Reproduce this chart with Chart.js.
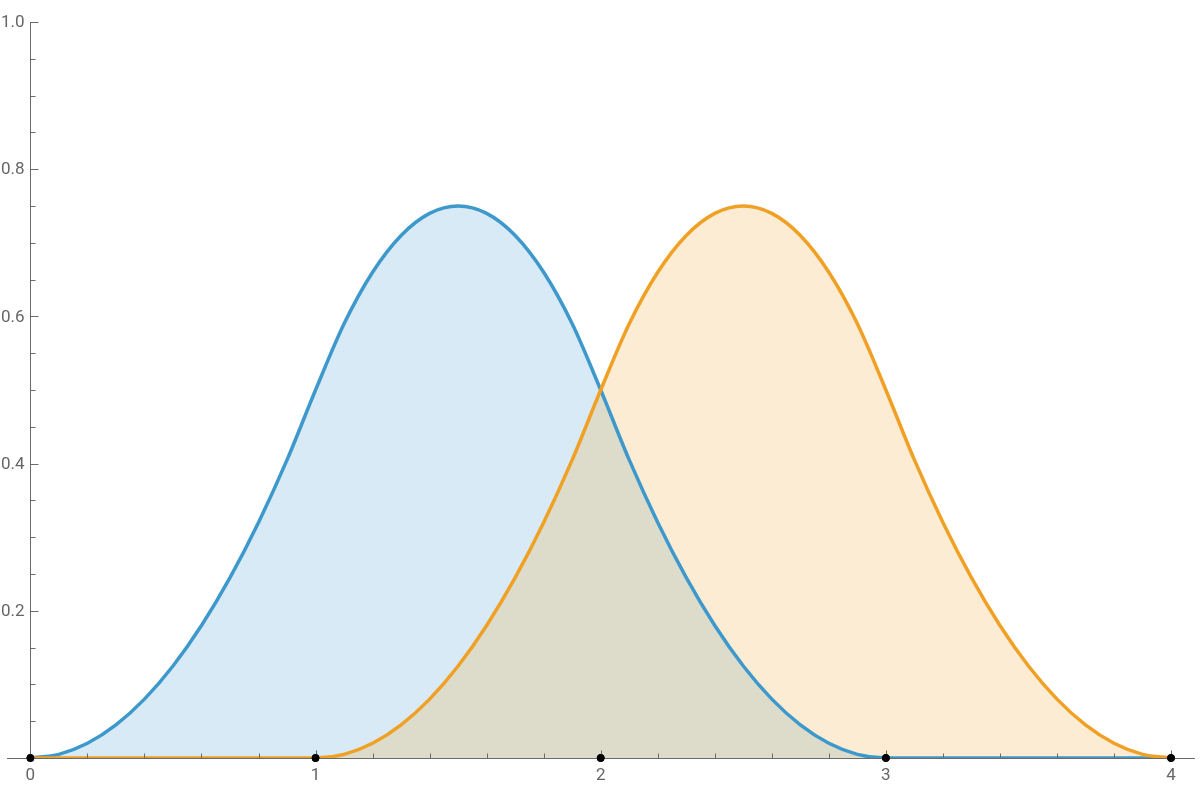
<!DOCTYPE html>
<html>
<head>
<meta charset="utf-8">
<script src="https://cdn.jsdelivr.net/npm/chart.js@4/dist/chart.umd.min.js"></script>
<style>
  body { margin: 0; background: #fff; }
</style>
</head>
<body>
<canvas id="chart" width="1200" height="800"></canvas>
<script>
// sampled x positions, step 0.1
const xs = [
  0, 0.1, 0.2, 0.3, 0.4, 0.5, 0.6, 0.7, 0.8, 0.9,
  1, 1.1, 1.2, 1.3, 1.4, 1.5, 1.6, 1.7, 1.8, 1.9,
  2, 2.1, 2.2, 2.3, 2.4, 2.5, 2.6, 2.7, 2.8, 2.9,
  3, 3.1, 3.2, 3.3, 3.4, 3.5, 3.6, 3.7, 3.8, 3.9, 4,
];
const blueValues = [
  0, 0.005, 0.02, 0.045, 0.08, 0.125, 0.18, 0.245, 0.32, 0.405,
  0.5, 0.59, 0.66, 0.71, 0.74, 0.75, 0.74, 0.71, 0.66, 0.59,
  0.5, 0.405, 0.32, 0.245, 0.18, 0.125, 0.08, 0.045, 0.02, 0.005,
  0, 0, 0, 0, 0, 0, 0, 0, 0, 0, 0,
];
const orangeValues = [
  0, 0, 0, 0, 0, 0, 0, 0, 0, 0,
  0, 0.005, 0.02, 0.045, 0.08, 0.125, 0.18, 0.245, 0.32, 0.405,
  0.5, 0.59, 0.66, 0.71, 0.74, 0.75, 0.74, 0.71, 0.66, 0.59,
  0.5, 0.405, 0.32, 0.245, 0.18, 0.125, 0.08, 0.045, 0.02, 0.005, 0,
];
const knots = [0, 1, 2, 3, 4];
const xMajorTicks = [0, 1, 2, 3, 4];
const xTickLabels = ['0', '1', '2', '3', '4'];
const yMajorTicks = [0.2, 0.4, 0.6, 0.8, 1.0];
const yTickLabels = ['0.2', '0.4', '0.6', '0.8', '1.0'];
const xMinorStep = 0.2;
const yMinorStep = 0.05;

const AXIS_COLOR = '#6b6b6b';
const LABEL_COLOR = '#666';

const toPoints = (vals) => vals.map((v, i) => ({ x: xs[i], y: v }));

const axesPlugin = {
  id: 'mmaAxes',
  afterDatasetsDraw(chart) {
    const { ctx, scales } = chart;
    const xs_ = scales.x;
    const ys_ = scales.y;
    const x0 = Math.round(xs_.getPixelForValue(0)) + 0.5;
    const y0 = Math.round(ys_.getPixelForValue(0)) + 0.5;
    ctx.save();
    ctx.strokeStyle = AXIS_COLOR;
    ctx.lineWidth = 1;
    ctx.beginPath();
    // x axis
    ctx.moveTo(chart.chartArea.left, y0);
    ctx.lineTo(chart.chartArea.right, y0);
    // y axis
    ctx.moveTo(x0, y0);
    ctx.lineTo(x0, Math.round(ys_.getPixelForValue(1)));
    // x ticks
    for (let i = 0; i <= 20; i++) {
      const v = i * xMinorStep;
      const px = Math.round(xs_.getPixelForValue(v)) + 0.5;
      const major = xMajorTicks.some((t) => Math.abs(t - v) < 1e-6);
      ctx.moveTo(px, y0);
      ctx.lineTo(px, y0 - (major ? 8 : 5));
    }
    // y ticks
    for (let i = 1; i <= 20; i++) {
      const v = i * yMinorStep;
      const py = Math.round(ys_.getPixelForValue(v)) + 0.5;
      const major = yMajorTicks.some((t) => Math.abs(t - v) < 1e-6);
      ctx.moveTo(x0, py);
      ctx.lineTo(x0 + (major ? 8 : 5), py);
    }
    ctx.stroke();

    ctx.fillStyle = LABEL_COLOR;
    ctx.font = '17px Roboto';
    ctx.textAlign = 'center';
    ctx.textBaseline = 'top';
    xMajorTicks.forEach((t, i) => {
      ctx.fillText(xTickLabels[i], xs_.getPixelForValue(t), y0 + 9);
    });
    ctx.textAlign = 'right';
    ctx.textBaseline = 'middle';
    yMajorTicks.forEach((t, i) => {
      ctx.fillText(yTickLabels[i], x0 - 6, ys_.getPixelForValue(t) + 1);
    });
    ctx.restore();

    // knot dots on top of the axis
    const meta = chart.getDatasetMeta(2);
    meta.data.forEach((p) => p.draw(ctx, chart.chartArea));
  },
};

new Chart(document.getElementById('chart').getContext('2d'), {
  type: 'line',
  data: {
    datasets: [
      {
        label: 'orange',
        data: toPoints(orangeValues),
        borderColor: '#f0a024',
        backgroundColor: 'rgba(240,160,36,0.2)',
        borderWidth: 3.5,
        fill: 'origin',
        pointRadius: 0,
        cubicInterpolationMode: 'monotone',
        order: 1,
      },
      {
        label: 'blue',
        data: toPoints(blueValues),
        borderColor: '#3d98cc',
        backgroundColor: 'rgba(61,152,204,0.2)',
        borderWidth: 3.5,
        fill: 'origin',
        pointRadius: 0,
        cubicInterpolationMode: 'monotone',
        order: 2,
      },
      {
        type: 'scatter',
        label: 'knots',
        data: knots.map((k) => ({ x: k, y: 0 })),
        backgroundColor: '#000',
        borderColor: '#000',
        pointRadius: 3.5,
        clip: false,
        order: 0,
      },
    ],
  },
  options: {
    responsive: false,
    animation: false,
    layout: { padding: { left: 7, right: 3, top: 22, bottom: 42 } },
    plugins: {
      legend: { display: false },
      tooltip: { enabled: false },
      filler: { drawTime: 'beforeDatasetsDraw' },
    },
    scales: {
      x: { type: 'linear', min: -0.082, max: 4.084, display: false },
      y: { min: 0, max: 1, display: false },
    },
  },
  plugins: [axesPlugin],
});
</script>
</body>
</html>
